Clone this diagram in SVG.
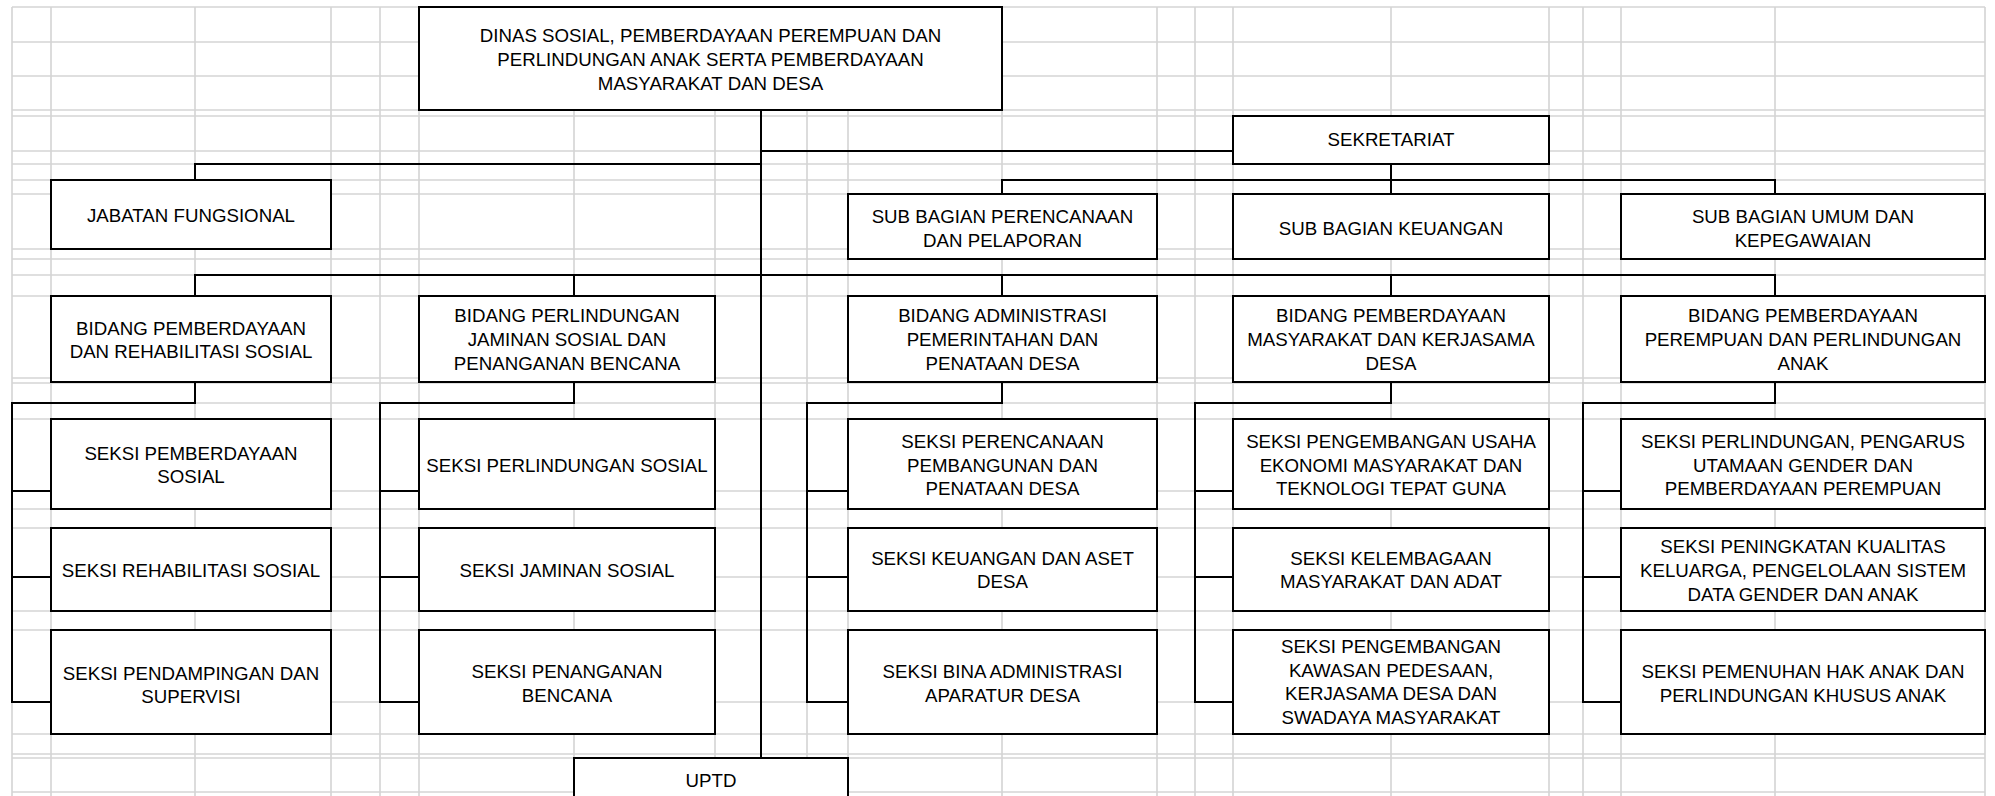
<svg xmlns="http://www.w3.org/2000/svg" width="1995" height="796" viewBox="0 0 1995 796">
<style>
.grid line{stroke:#d4d4d4;stroke-width:1.6}
.box{fill:#fff;stroke:#000;stroke-width:2}
.conn path{stroke:#000;stroke-width:2;fill:none}
text{font-family:"Liberation Sans",Arial,sans-serif;font-size:18.7px;text-anchor:middle;fill:#000}
</style>
<rect width="1995" height="796" fill="#fff"/>
<g class="grid">
<line x1="12" y1="7" x2="1985" y2="7"/><line x1="12" y1="42" x2="1985" y2="42"/><line x1="12" y1="76" x2="1985" y2="76"/><line x1="12" y1="110" x2="1985" y2="110"/><line x1="12" y1="116" x2="1985" y2="116"/><line x1="12" y1="151" x2="1985" y2="151"/><line x1="12" y1="164" x2="1985" y2="164"/><line x1="12" y1="180" x2="1985" y2="180"/><line x1="12" y1="194" x2="1985" y2="194"/><line x1="12" y1="249" x2="1985" y2="249"/><line x1="12" y1="259" x2="1985" y2="259"/><line x1="12" y1="275" x2="1985" y2="275"/><line x1="12" y1="296" x2="1985" y2="296"/><line x1="12" y1="378" x2="1985" y2="378"/><line x1="12" y1="383" x2="1985" y2="383"/><line x1="12" y1="403" x2="1985" y2="403"/><line x1="12" y1="419" x2="1985" y2="419"/><line x1="12" y1="491" x2="1985" y2="491"/><line x1="12" y1="509" x2="1985" y2="509"/><line x1="12" y1="528" x2="1985" y2="528"/><line x1="12" y1="577" x2="1985" y2="577"/><line x1="12" y1="611" x2="1985" y2="611"/><line x1="12" y1="630" x2="1985" y2="630"/><line x1="12" y1="702" x2="1985" y2="702"/><line x1="12" y1="734" x2="1985" y2="734"/><line x1="12" y1="754" x2="1985" y2="754"/><line x1="12" y1="758" x2="1985" y2="758"/><line x1="12" y1="792" x2="1985" y2="792"/>
<line x1="12" y1="7" x2="12" y2="796"/><line x1="51" y1="7" x2="51" y2="796"/><line x1="195" y1="7" x2="195" y2="796"/><line x1="331" y1="7" x2="331" y2="796"/><line x1="380" y1="7" x2="380" y2="796"/><line x1="419" y1="7" x2="419" y2="796"/><line x1="574" y1="7" x2="574" y2="796"/><line x1="715" y1="7" x2="715" y2="796"/><line x1="761" y1="7" x2="761" y2="796"/><line x1="807" y1="7" x2="807" y2="796"/><line x1="848" y1="7" x2="848" y2="796"/><line x1="1002" y1="7" x2="1002" y2="796"/><line x1="1157" y1="7" x2="1157" y2="796"/><line x1="1195" y1="7" x2="1195" y2="796"/><line x1="1233" y1="7" x2="1233" y2="796"/><line x1="1391" y1="7" x2="1391" y2="796"/><line x1="1549" y1="7" x2="1549" y2="796"/><line x1="1583" y1="7" x2="1583" y2="796"/><line x1="1621" y1="7" x2="1621" y2="796"/><line x1="1775" y1="7" x2="1775" y2="796"/><line x1="1985" y1="7" x2="1985" y2="796"/>
</g>
<g class="conn">
<path d="M761,110 V758"/>
<path d="M761,151 H1233"/>
<path d="M761,164 H195 V180"/>
<path d="M1391,164 V194"/>
<path d="M1002,194 V180 H1775 V194"/>
<path d="M195,296 V275 H1775 V296"/>
<path d="M574,275 V296 M1002,275 V296 M1391,275 V296"/>
<path d="M195,382 V403 H12 V702 H51 M12,491 H51 M12,577 H51"/>
<path d="M574,382 V403 H380 V702 H419 M380,491 H419 M380,577 H419"/>
<path d="M1002,382 V403 H807 V702 H848 M807,491 H848 M807,577 H848"/>
<path d="M1391,382 V403 H1195 V702 H1233 M1195,491 H1233 M1195,577 H1233"/>
<path d="M1775,382 V403 H1583 V702 H1621 M1583,491 H1621 M1583,577 H1621"/>
</g>
<g id="dinas"><rect class="box" x="419" y="7" width="583" height="103"/><text x="710.5" y="41.7">DINAS SOSIAL, PEMBERDAYAAN PEREMPUAN DAN<tspan x="710.5" y="65.9">PERLINDUNGAN ANAK SERTA PEMBERDAYAAN</tspan><tspan x="710.5" y="90">MASYARAKAT DAN DESA</tspan></text></g>
<g id="sekretariat"><rect class="box" x="1233" y="116" width="316" height="48"/><text x="1391" y="146">SEKRETARIAT</text></g>
<g id="jabatan-fungsional"><rect class="box" x="51" y="180" width="280" height="69"/><text x="191" y="221.7">JABATAN FUNGSIONAL</text></g>
<g id="sub-perencanaan"><rect class="box" x="848" y="194" width="309" height="65"/><text x="1002.5" y="223">SUB BAGIAN PERENCANAAN<tspan x="1002.5" y="246.7">DAN PELAPORAN</tspan></text></g>
<g id="sub-keuangan"><rect class="box" x="1233" y="194" width="316" height="65"/><text x="1391" y="235">SUB BAGIAN KEUANGAN</text></g>
<g id="sub-umum"><rect class="box" x="1621" y="194" width="364" height="65"/><text x="1803" y="223">SUB BAGIAN UMUM DAN<tspan x="1803" y="246.7">KEPEGAWAIAN</tspan></text></g>
<g id="bidang-rehsos"><rect class="box" x="51" y="296" width="280" height="86"/><text x="191" y="335">BIDANG PEMBERDAYAAN<tspan x="191" y="358.3">DAN REHABILITASI SOSIAL</tspan></text></g>
<g id="bidang-linjamsos"><rect class="box" x="419" y="296" width="296" height="86"/><text x="567" y="322.3">BIDANG PERLINDUNGAN<tspan x="567" y="346">JAMINAN SOSIAL DAN</tspan><tspan x="567" y="370">PENANGANAN BENCANA</tspan></text></g>
<g id="bidang-adminpem"><rect class="box" x="848" y="296" width="309" height="86"/><text x="1002.5" y="322.3">BIDANG ADMINISTRASI<tspan x="1002.5" y="346">PEMERINTAHAN DAN</tspan><tspan x="1002.5" y="370">PENATAAN DESA</tspan></text></g>
<g id="bidang-pmd"><rect class="box" x="1233" y="296" width="316" height="86"/><text x="1391" y="322.3">BIDANG PEMBERDAYAAN<tspan x="1391" y="346">MASYARAKAT DAN KERJASAMA</tspan><tspan x="1391" y="370">DESA</tspan></text></g>
<g id="bidang-pppa"><rect class="box" x="1621" y="296" width="364" height="86"/><text x="1803" y="322.3">BIDANG PEMBERDAYAAN<tspan x="1803" y="346">PEREMPUAN DAN PERLINDUNGAN</tspan><tspan x="1803" y="370">ANAK</tspan></text></g>
<g id="seksi-1-1"><rect class="box" x="51" y="419" width="280" height="90"/><text x="191" y="460">SEKSI PEMBERDAYAAN<tspan x="191" y="483.3">SOSIAL</tspan></text></g>
<g id="seksi-1-2"><rect class="box" x="51" y="528" width="280" height="83"/><text x="191" y="576.7">SEKSI REHABILITASI SOSIAL</text></g>
<g id="seksi-1-3"><rect class="box" x="51" y="630" width="280" height="104"/><text x="191" y="680">SEKSI PENDAMPINGAN DAN<tspan x="191" y="703.3">SUPERVISI</tspan></text></g>
<g id="seksi-2-1"><rect class="box" x="419" y="419" width="296" height="90"/><text x="567" y="471.7">SEKSI PERLINDUNGAN SOSIAL</text></g>
<g id="seksi-2-2"><rect class="box" x="419" y="528" width="296" height="83"/><text x="567" y="576.7">SEKSI JAMINAN SOSIAL</text></g>
<g id="seksi-2-3"><rect class="box" x="419" y="630" width="296" height="104"/><text x="567" y="678.3">SEKSI PENANGANAN<tspan x="567" y="701.7">BENCANA</tspan></text></g>
<g id="seksi-3-1"><rect class="box" x="848" y="419" width="309" height="90"/><text x="1002.5" y="448.3">SEKSI PERENCANAAN<tspan x="1002.5" y="471.7">PEMBANGUNAN DAN</tspan><tspan x="1002.5" y="495">PENATAAN DESA</tspan></text></g>
<g id="seksi-3-2"><rect class="box" x="848" y="528" width="309" height="83"/><text x="1002.5" y="565">SEKSI KEUANGAN DAN ASET<tspan x="1002.5" y="588.3">DESA</tspan></text></g>
<g id="seksi-3-3"><rect class="box" x="848" y="630" width="309" height="104"/><text x="1002.5" y="678.3">SEKSI BINA ADMINISTRASI<tspan x="1002.5" y="701.7">APARATUR DESA</tspan></text></g>
<g id="seksi-4-1"><rect class="box" x="1233" y="419" width="316" height="90"/><text x="1391" y="448.3">SEKSI PENGEMBANGAN USAHA<tspan x="1391" y="471.7">EKONOMI MASYARAKAT DAN</tspan><tspan x="1391" y="495">TEKNOLOGI TEPAT GUNA</tspan></text></g>
<g id="seksi-4-2"><rect class="box" x="1233" y="528" width="316" height="83"/><text x="1391" y="565">SEKSI KELEMBAGAAN<tspan x="1391" y="588.3">MASYARAKAT DAN ADAT</tspan></text></g>
<g id="seksi-4-3"><rect class="box" x="1233" y="630" width="316" height="104"/><text x="1391" y="653.3">SEKSI PENGEMBANGAN<tspan x="1391" y="676.7">KAWASAN PEDESAAN,</tspan><tspan x="1391" y="700">KERJASAMA DESA DAN</tspan><tspan x="1391" y="724">SWADAYA MASYARAKAT</tspan></text></g>
<g id="seksi-5-1"><rect class="box" x="1621" y="419" width="364" height="90"/><text x="1803" y="448.3">SEKSI PERLINDUNGAN, PENGARUS<tspan x="1803" y="471.7">UTAMAAN GENDER DAN</tspan><tspan x="1803" y="495">PEMBERDAYAAN PEREMPUAN</tspan></text></g>
<g id="seksi-5-2"><rect class="box" x="1621" y="528" width="364" height="83"/><text x="1803" y="552.5">SEKSI PENINGKATAN KUALITAS<tspan x="1803" y="576.7">KELUARGA, PENGELOLAAN SISTEM</tspan><tspan x="1803" y="601">DATA GENDER DAN ANAK</tspan></text></g>
<g id="seksi-5-3"><rect class="box" x="1621" y="630" width="364" height="104"/><text x="1803" y="678.3">SEKSI PEMENUHAN HAK ANAK DAN<tspan x="1803" y="701.7">PERLINDUNGAN KHUSUS ANAK</tspan></text></g>
<g id="uptd"><rect class="box" x="574" y="758" width="274" height="60"/><text x="711" y="786.7">UPTD</text></g>
</svg>
